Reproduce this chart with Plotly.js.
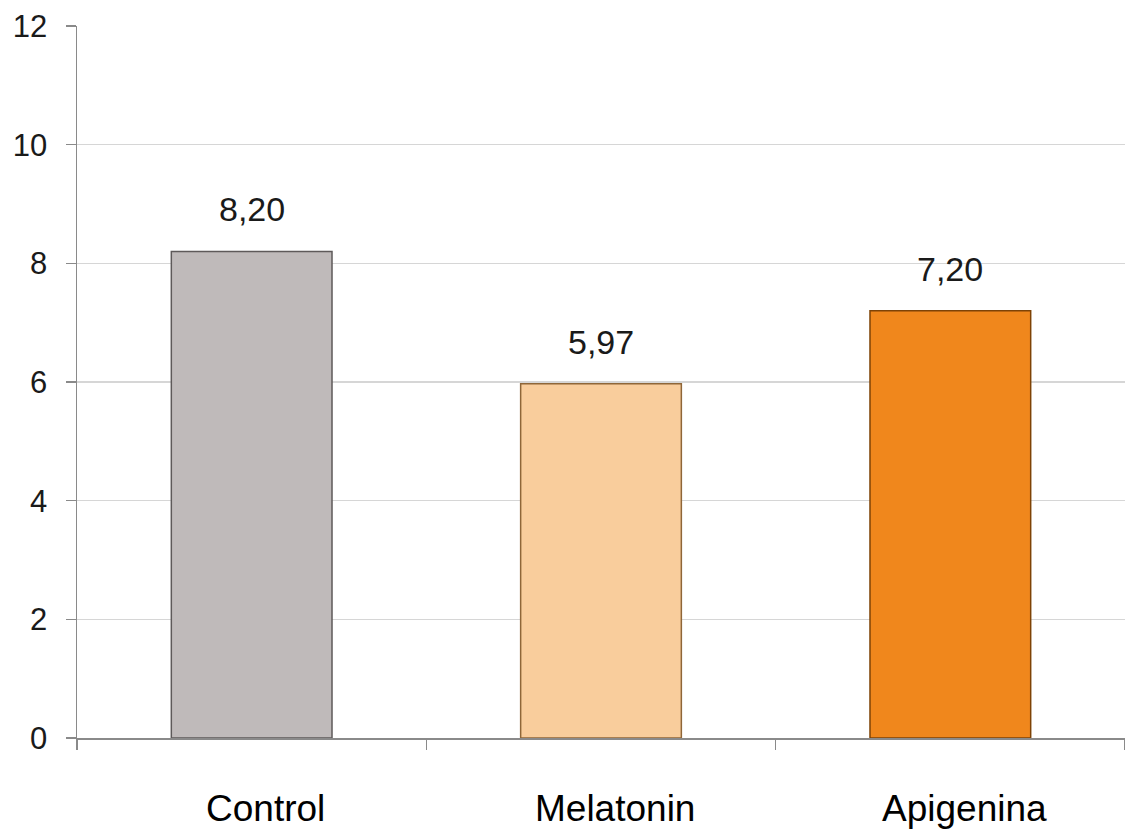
<!DOCTYPE html>
<html>
<head>
<meta charset="utf-8">
<script src="https://cdn.plot.ly/plotly-3.0.1.min.js"></script>
<style>
  html, body { margin: 0; padding: 0; background: #ffffff; }
  #chart { width: 1125px; height: 831px; }
</style>
</head>
<body>
<div id="chart"></div>
<script>
// Group means
const groups = ["Control", "Melatonin", "Apigenina"];
const means = [8.20, 5.97, 7.20];
const barColors = ["#bfbaba", "#f9cd9c", "#f0871c"];
const edgeColors = ["#5e5a5a", "#8f6638", "#7e4306"];
const yTicks = [0, 2, 4, 6, 8, 10, 12];

const bars = {
  type: "bar",
  x: groups,
  y: means,
  marker: {
    color: barColors,
    line: { color: edgeColors, width: 1.5 }
  },
  hoverinfo: "x+y",
  showlegend: false
};

const textFont = "Liberation Sans, Arial, sans-serif";

// Value labels above each bar, using a decimal comma
const valueLabels = groups.map((g, i) => ({
  x: g,
  y: means[i],
  text: means[i].toFixed(2).replace(".", ","),
  showarrow: false,
  yanchor: "middle",
  yshift: 42,
  font: { family: textFont, size: 34, color: "#1a1a1a" }
}));

// Group names below the axis, set slightly right of each bar centre
const groupLabels = groups.map(g => ({
  x: g,
  y: 0,
  text: g,
  showarrow: false,
  yanchor: "middle",
  xshift: 14,
  yshift: -70,
  font: { family: textFont, size: 37, color: "#000000" }
}));

const layout = {
  width: 1125,
  height: 831,
  margin: { l: 77, r: 0, t: 26, b: 93 },
  paper_bgcolor: "#ffffff",
  plot_bgcolor: "#ffffff",
  bargap: 0.54,
  separators: ",.",
  xaxis: {
    type: "category",
    range: [-0.5, 2.5],
    showline: true,
    linecolor: "#8a8a8a",
    linewidth: 1.5,
    ticks: "outside",
    tickson: "boundaries",
    ticklen: 10,
    tickcolor: "#8a8a8a",
    tickwidth: 1.5,
    showticklabels: false,
    showgrid: false
  },
  yaxis: {
    range: [0, 12],
    tickvals: yTicks,
    showline: true,
    linecolor: "#8a8a8a",
    linewidth: 1.5,
    ticks: "outside",
    ticklen: 10,
    tickcolor: "#8a8a8a",
    tickwidth: 1.5,
    ticklabelstandoff: 12,
    showgrid: true,
    gridcolor: "#d6d6d6",
    gridwidth: 1.5,
    zeroline: false,
    tickfont: { family: textFont, size: 31, color: "#1a1a1a" }
  },
  annotations: valueLabels.concat(groupLabels)
};

Plotly.newPlot("chart", [bars], layout, { displayModeBar: false, staticPlot: true });
</script>
</body>
</html>
